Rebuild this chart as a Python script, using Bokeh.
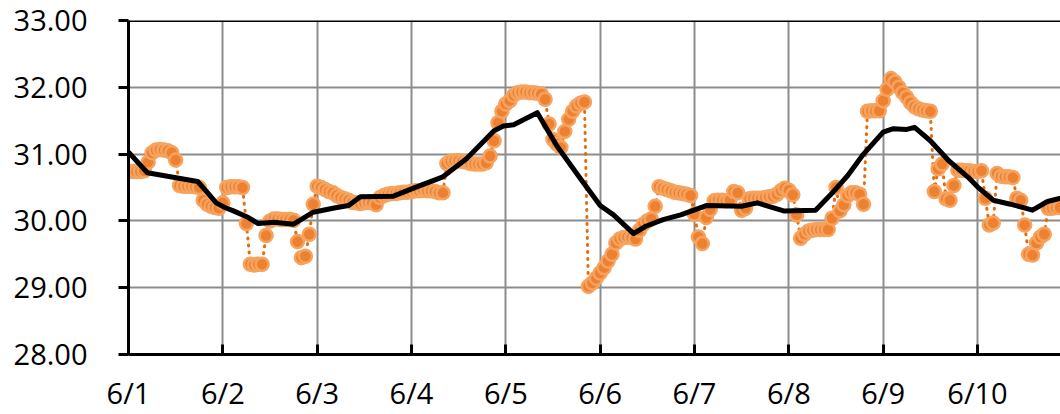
import numpy as np
from bokeh.plotting import figure
from bokeh.models import FixedTicker, NumeralTickFormatter, Span, Range1d
from bokeh.embed import file_html
from bokeh.resources import INLINE

# ---- data ----
day_labels = ["6/1", "6/2", "6/3", "6/4", "6/5", "6/6", "6/7", "6/8", "6/9", "6/10"]
y_ticks = [28, 29, 30, 31, 32, 33]

# hourly readings starting 6/1 00:00
hourly_temps = [
    30.74, 30.74, 30.74, 30.74, 30.75, 30.88,
    31.02, 31.06, 31.07, 31.06, 31.05, 31.02, 30.91,
    30.53, 30.52, 30.52, 30.52, 30.51, 30.50,
    30.31, 30.25, 30.22, 30.20, 30.19,
    30.27, 30.50, 30.51, 30.51, 30.51, 30.50,
    29.96, 29.35, 29.34, 29.35, 29.35, 29.78,
    30.00, 30.03, 30.03, 30.02, 30.02, 30.02, 30.01,
    29.69, 29.45, 29.47, 29.80, 30.25,
    30.52, 30.50, 30.47, 30.44, 30.42, 30.38, 30.35, 30.33, 30.31,
    30.28, 30.27, 30.26, 30.27, 30.28, 30.27, 30.24,
    30.35, 30.38, 30.40, 30.41, 30.41, 30.42, 30.43, 30.43,
    30.44, 30.45, 30.45, 30.46, 30.45, 30.45, 30.44, 30.42, 30.42,
    30.86, 30.89, 30.90, 30.90, 30.89, 30.88, 30.86, 30.85, 30.85, 30.85, 30.87,
    30.97, 31.20, 31.47, 31.64, 31.75, 31.80, 31.88,
    31.92, 31.93, 31.93, 31.92, 31.92, 31.91, 31.90,
    31.82, 31.45, 31.22, 31.15, 31.10, 31.34, 31.52, 31.64, 31.72, 31.76, 31.78,
    29.02, 29.07, 29.14, 29.22, 29.30, 29.40, 29.50, 29.67, 29.73,
    29.75, 29.76, 29.75, 29.73,
    29.86, 29.95, 30.00, 30.03, 30.22,
    30.51, 30.49, 30.47, 30.45, 30.43, 30.42, 30.41, 30.40, 30.38,
    30.10, 29.76, 29.66, 30.05, 30.17,
    30.30, 30.31, 30.31, 30.30, 30.31, 30.44, 30.42,
    30.16, 30.19,
    30.33, 30.34, 30.34, 30.34, 30.35, 30.36, 30.37, 30.40,
    30.45, 30.49, 30.46, 30.39,
    30.09, 29.74,
    29.80, 29.85, 29.86, 29.87, 29.87, 29.87, 29.87,
    30.04, 30.50, 30.15, 30.24,
    30.38, 30.42, 30.42, 30.40, 30.25,
    31.64, 31.65, 31.65, 31.65,
    31.80, 31.97, 32.13, 32.08, 32.00, 31.92, 31.85, 31.77, 31.71, 31.68, 31.66, 31.65, 31.64,
    30.44, 30.78, 30.85, 30.33, 30.31, 30.53,
    30.76, 30.76, 30.75, 30.75, 30.74, 30.74, 30.75,
    30.34, 29.94, 29.97, 30.71,
    30.67, 30.66, 30.66, 30.65,
    30.34, 30.31, 29.94, 29.50, 29.49, 29.67, 29.76, 29.80,
    30.19, 30.19, 30.20, 30.20,
]

# smoothed (moving-average) line: hour offsets and values
avg_hours = [0, 4.8, 17.6, 20, 22.3, 24.5, 26.7, 30.5, 33, 37, 42, 47, 52, 56, 59,
             67.4, 72.5, 80, 86, 93, 95.4, 98, 104, 109, 115, 120, 123.4, 128.5,
             131.6, 136, 140.5, 147, 156, 160, 166.7, 174.8, 178.6, 183, 187, 192,
             194.6, 198, 200, 204, 208.7, 213.5, 216, 220, 224.4, 230, 233.8, 237.2]
avg_values = [31.03, 30.72, 30.59, 30.43, 30.27, 30.20, 30.15, 30.05, 29.96, 29.98, 29.95,
              30.13, 30.19, 30.23, 30.36, 30.37, 30.49, 30.66, 30.93, 31.35, 31.42,
              31.44, 31.62, 31.12, 30.63, 30.23, 30.09, 29.81, 29.92, 30.02, 30.09,
              30.23, 30.22, 30.27, 30.15, 30.16, 30.39, 30.68, 31.00, 31.33, 31.38,
              31.37, 31.40, 31.20, 30.90, 30.66, 30.51, 30.31, 30.25, 30.16, 30.29, 30.34]

# ---- derived positions (days since 6/1) ----
x_hourly = np.arange(len(hourly_temps)) / 24.0
x_avg = np.array(avg_hours) / 24.0

FONT = "Open Sans"

p = figure(width=1060, height=414, output_backend="svg", toolbar_location=None,
           x_range=Range1d(0, 9.88), y_range=Range1d(28, 33),
           min_border_left=128, min_border_right=0, min_border_top=20,
           min_border_bottom=56)
p.outline_line_color = None
p.background_fill_color = "white"
p.border_fill_color = "white"

# grid
for g in (p.xgrid, p.ygrid):
    g.grid_line_color = "#8c8c8c"
    g.grid_line_width = 2

# axes
p.xaxis.ticker = FixedTicker(ticks=list(range(len(day_labels))))
p.xaxis.major_label_overrides = {i: lbl for i, lbl in enumerate(day_labels)}
p.xaxis.major_tick_in = 10
p.xaxis.major_tick_out = 0
p.xaxis.minor_tick_line_color = None
p.xaxis.major_label_standoff = 18

p.yaxis.ticker = FixedTicker(ticks=y_ticks)
p.yaxis.formatter = NumeralTickFormatter(format="0.00")
p.yaxis.major_tick_out = 10
p.yaxis.major_tick_in = 0
p.yaxis.minor_tick_line_color = None
p.yaxis.major_label_standoff = 31

for ax in (p.xaxis, p.yaxis):
    ax.axis_line_color = "black"
    ax.axis_line_width = 3
    ax.major_tick_line_color = "black"
    ax.major_tick_line_width = 3
    ax.major_label_text_font = FONT
    ax.major_label_text_font_size = "29px"
    ax.major_label_text_color = "black"

# top border line
p.add_layout(Span(location=33, dimension="width", line_color="black", line_width=3))

# hourly series: dotted connector + markers
p.line(x_hourly, hourly_temps, line_color="#e46c0a", line_width=3,
       line_dash="1 6", line_cap="round")
p.scatter(x_hourly, hourly_temps, size=13, fill_color="#ee8130",
          line_color="#f6a35f", line_width=2.5)

# smoothed line
p.line(x_avg, avg_values, line_color="black", line_width=5, line_join="round")

open("out.html", "w").write(file_html(p, INLINE))
